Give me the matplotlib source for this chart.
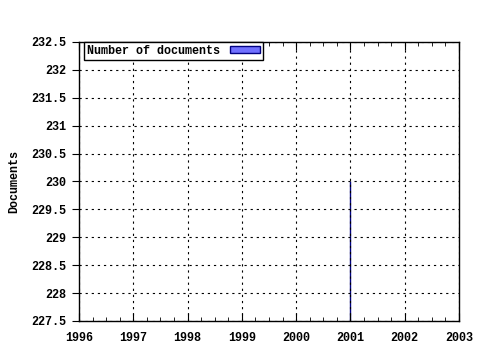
import matplotlib
matplotlib.use('Agg')
import matplotlib.pyplot as plt
from matplotlib.ticker import MultipleLocator, FuncFormatter

# data
years = [2001]
documents = [230]
series_label = 'Number of documents'
y_base = 227.5

plt.rcParams['font.family'] = ['Liberation Mono', 'DejaVu Sans Mono']
plt.rcParams['font.weight'] = 'bold'
plt.rcParams['axes.labelweight'] = 'bold'
plt.rcParams['font.size'] = 8.5

fig = plt.figure(figsize=(4.8, 3.5), dpi=100)
ax = fig.add_axes([79 / 480, 1 - 321 / 350, 380 / 480, 279 / 350])

ax.bar(years, [d - y_base for d in documents], bottom=y_base, width=0.0,
       color='#7070ff', edgecolor='#000080', linewidth=1.0, label=series_label)

ax.set_xlim(1996, 2003)
ax.set_ylim(227.5, 232.5)
ax.xaxis.set_major_locator(MultipleLocator(1))
ax.xaxis.set_minor_locator(MultipleLocator(0.25))
ax.yaxis.set_major_locator(MultipleLocator(0.5))
ax.yaxis.set_major_formatter(FuncFormatter(lambda v, p: '%g' % v))

ax.grid(True, which='major', color='black', linestyle=(0, (2, 3.5)), linewidth=0.8)
ax.tick_params(axis='x', which='both', direction='in', top=True, pad=8)
ax.tick_params(axis='x', which='major', length=6)
ax.tick_params(axis='x', which='minor', length=3)
ax.tick_params(axis='y', which='major', direction='out', length=5, pad=4)
for s in ax.spines.values():
    s.set_linewidth(1)

ax.set_ylabel('Documents', labelpad=8)

leg = ax.legend(loc='upper left', bbox_to_anchor=(0.014, 1.0), frameon=True, fancybox=False,
                borderpad=0.25, handlelength=2.6, handleheight=0.55, borderaxespad=0,
                markerfirst=False, handletextpad=0.8)
leg.get_frame().set_edgecolor('black')
leg.get_frame().set_linewidth(1)
leg.get_frame().set_alpha(1)
leg.legend_handles[0].set_facecolor('#7070ff')
leg.legend_handles[0].set_edgecolor('#000080')

fig.savefig('out.png', dpi=100)
